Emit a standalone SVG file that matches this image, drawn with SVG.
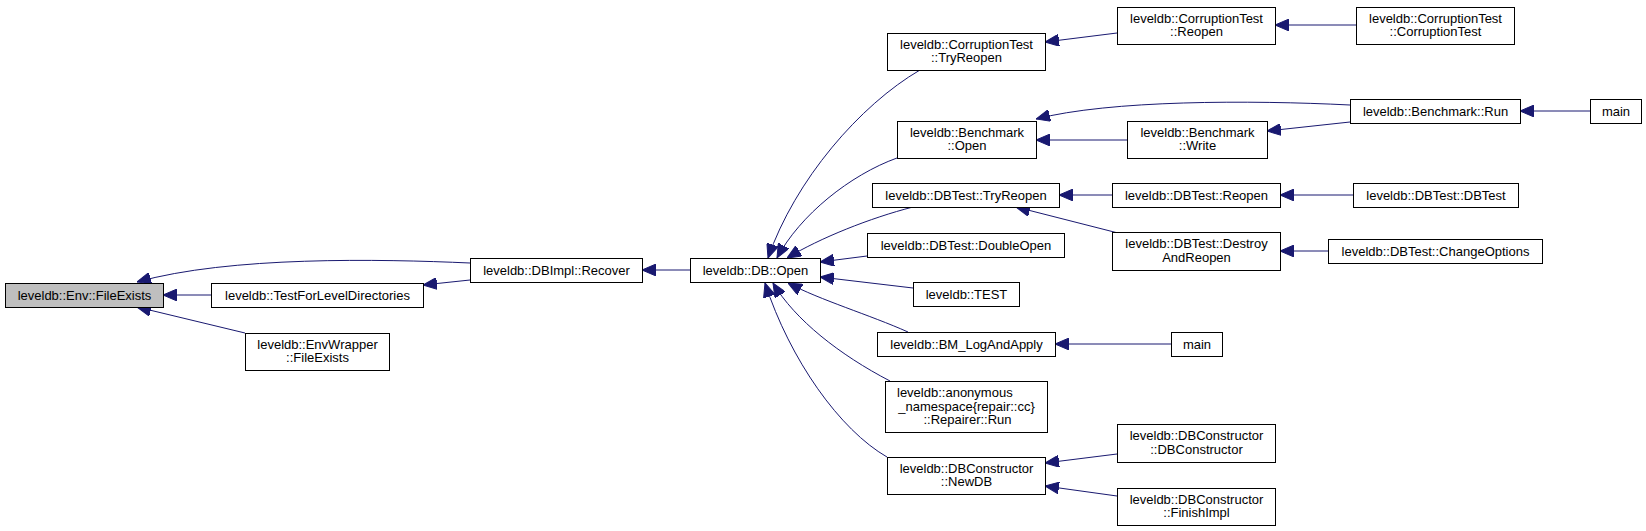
<svg xmlns="http://www.w3.org/2000/svg" width="1646" height="531" viewBox="0 0 1646 531">
<style>
.n rect{fill:#fff;stroke:#000;stroke-width:1}
.n text{font-family:"Liberation Sans",Arial,Helvetica,sans-serif;font-size:13px;fill:#000;text-anchor:middle}
.n text.l{text-anchor:start}
#n1 rect{fill:#bfbfbf}
.e path{fill:none;stroke:#191970;stroke-width:1;marker-end:url(#ah)}
</style>
<defs>
<marker id="ah" viewBox="0 0 14 12" refX="14" refY="6" markerWidth="14" markerHeight="12" markerUnits="userSpaceOnUse" orient="auto">
<path d="M0,0 L14,6 L0,12 z" fill="#191970" stroke="#191970" stroke-width="1"/>
</marker>
</defs>
<rect width="1646" height="531" fill="#fff"/>
<g id="edges" class="e">
<path d="M470,263 C380,259 230,256 137,282"/>
<path d="M211,295 L163,295"/>
<path d="M245,333 L137,307"/>
<path d="M470,280 L423,285"/>
<path d="M690,270 L642,270"/>
<path d="M920,70 C860,105 795,180 768,258"/>
<path d="M897,158 C850,175 800,215 777,258"/>
<path d="M913,207 C870,218 820,238 787,258"/>
<path d="M867,256 L820,262"/>
<path d="M913,288 L820,277"/>
<path d="M908,332 C870,315 820,300 788,283"/>
<path d="M890,381 C840,355 795,320 773,283"/>
<path d="M887,457 C840,430 790,360 765,283"/>
<path d="M1117,33 L1045,42"/>
<path d="M1356,25 L1275,25"/>
<path d="M1350,105 C1250,100 1110,100 1036,119"/>
<path d="M1350,122 L1267,131"/>
<path d="M1127,140 L1036,140"/>
<path d="M1590,111 L1520,111"/>
<path d="M1112,195 L1059,195"/>
<path d="M1118,233 L1016,207"/>
<path d="M1353,195 L1280,195"/>
<path d="M1328,251 L1280,251"/>
<path d="M1171,344 L1055,344"/>
<path d="M1117,454 L1045,463"/>
<path d="M1117,496 L1045,486"/>
</g>
<g id="n1" class="n"><rect x="5.5" y="283.5" width="158" height="24"/><text x="84.5" y="300">leveldb::Env::FileExists</text></g>
<g id="n2" class="n"><rect x="211.5" y="283.5" width="212" height="24"/><text x="317.5" y="300">leveldb::TestForLevelDirectories</text></g>
<g id="n3" class="n"><rect x="245.5" y="333.5" width="144" height="37"/><text x="317.5" y="348.5">leveldb::EnvWrapper</text><text x="317.5" y="362">::FileExists</text></g>
<g id="n4" class="n"><rect x="470.5" y="258.5" width="172" height="24"/><text x="556.5" y="275">leveldb::DBImpl::Recover</text></g>
<g id="n5" class="n"><rect x="690.5" y="258.5" width="130" height="24"/><text x="755.5" y="275">leveldb::DB::Open</text></g>
<g id="n6" class="n"><rect x="887.5" y="33.5" width="158" height="37"/><text x="966.5" y="48.5">leveldb::CorruptionTest</text><text x="966.5" y="62">::TryReopen</text></g>
<g id="n7" class="n"><rect x="897.5" y="121.5" width="139" height="37"/><text x="967" y="136.5">leveldb::Benchmark</text><text x="967" y="150">::Open</text></g>
<g id="n8" class="n"><rect x="872.5" y="183.5" width="187" height="24"/><text x="966" y="200">leveldb::DBTest::TryReopen</text></g>
<g id="n9" class="n"><rect x="867.5" y="233.5" width="197" height="24"/><text x="966" y="250">leveldb::DBTest::DoubleOpen</text></g>
<g id="n10" class="n"><rect x="913.5" y="282.5" width="106" height="24"/><text x="966.5" y="299">leveldb::TEST</text></g>
<g id="n11" class="n"><rect x="877.5" y="332.5" width="178" height="24"/><text x="966.5" y="349">leveldb::BM_LogAndApply</text></g>
<g id="n12" class="n"><rect x="885.5" y="381.5" width="162" height="51"/><text class="l" x="897" y="397">leveldb::anonymous</text><text x="966.5" y="410.5">_namespace{repair::cc}</text><text x="967.5" y="424">::Repairer::Run</text></g>
<g id="n13" class="n"><rect x="887.5" y="457.5" width="158" height="37"/><text x="966.5" y="472.5">leveldb::DBConstructor</text><text x="966.5" y="486">::NewDB</text></g>
<g id="n14" class="n"><rect x="1117.5" y="7.5" width="158" height="37"/><text x="1196.5" y="22.5">leveldb::CorruptionTest</text><text x="1196.5" y="36">::Reopen</text></g>
<g id="n15" class="n"><rect x="1356.5" y="7.5" width="158" height="37"/><text x="1435.5" y="22.5">leveldb::CorruptionTest</text><text x="1435.5" y="36">::CorruptionTest</text></g>
<g id="n16" class="n"><rect x="1127.5" y="121.5" width="140" height="37"/><text x="1197.5" y="136.5">leveldb::Benchmark</text><text x="1197.5" y="150">::Write</text></g>
<g id="n17" class="n"><rect x="1350.5" y="99.5" width="170" height="24"/><text x="1435.5" y="116">leveldb::Benchmark::Run</text></g>
<g id="n18" class="n"><rect x="1590.5" y="99.5" width="51" height="24"/><text x="1616" y="116">main</text></g>
<g id="n19" class="n"><rect x="1112.5" y="183.5" width="168" height="24"/><text x="1196.5" y="200">leveldb::DBTest::Reopen</text></g>
<g id="n20" class="n"><rect x="1353.5" y="183.5" width="165" height="24"/><text x="1436" y="200">leveldb::DBTest::DBTest</text></g>
<g id="n21" class="n"><rect x="1112.5" y="232.5" width="168" height="38"/><text x="1196.5" y="248">leveldb::DBTest::Destroy</text><text x="1196.5" y="261.5">AndReopen</text></g>
<g id="n22" class="n"><rect x="1328.5" y="239.5" width="214" height="24"/><text x="1435.5" y="256">leveldb::DBTest::ChangeOptions</text></g>
<g id="n23" class="n"><rect x="1171.5" y="332.5" width="51" height="24"/><text x="1197" y="349">main</text></g>
<g id="n24" class="n"><rect x="1117.5" y="424.5" width="158" height="38"/><text x="1196.5" y="440">leveldb::DBConstructor</text><text x="1196.5" y="453.5">::DBConstructor</text></g>
<g id="n25" class="n"><rect x="1117.5" y="488.5" width="158" height="37"/><text x="1196.5" y="503.5">leveldb::DBConstructor</text><text x="1196.5" y="517">::FinishImpl</text></g>
</svg>
